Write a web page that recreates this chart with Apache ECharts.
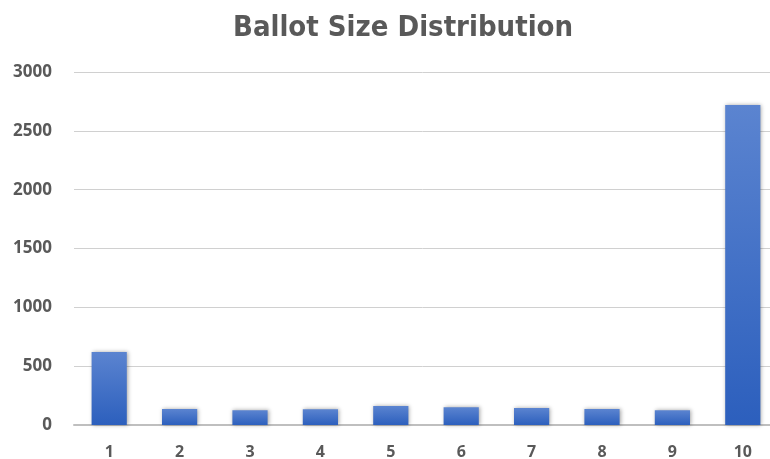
<!DOCTYPE html>
<html>
<head>
<meta charset="utf-8">
<script src="https://cdn.jsdelivr.net/npm/echarts@6/dist/echarts.min.js"></script>
<style>
  html, body { margin: 0; padding: 0; background: #fff; }
  #chart { width: 770px; height: 459px; }
</style>
</head>
<body>
<div id="chart"></div>
<script>
// Number of candidates ranked on each ballot, and how many ballots had that size
const ballotSizes = ['1', '2', '3', '4', '5', '6', '7', '8', '9', '10'];
const ballotCounts = [620, 136, 125, 134, 162, 150, 145, 136, 125, 2720];
const yTicks = [0, 500, 1000, 1500, 2000, 2500, 3000];

const chart = echarts.init(document.getElementById('chart'));
const labelColor = '#595959';
const labelFont = '"Open Sans", "DejaVu Sans", sans-serif';

chart.setOption({
  animation: false,
  backgroundColor: '#ffffff',
  title: {
    text: 'Ballot Size Distribution',
    left: 228,
    top: 9,
    textStyle: {
      fontFamily: '"Liberation Sans Narrow", "DejaVu Sans Condensed", sans-serif',
      fontSize: 29,
      fontWeight: 'bold',
      color: labelColor
    }
  },
  grid: { left: 74, top: 72, width: 704, bottom: 34, outerBoundsMode: 'none', containLabel: false },
  xAxis: {
    type: 'category',
    data: ballotSizes,
    axisLine: { lineStyle: { color: '#bfbfbf', width: 2 } },
    axisTick: { show: false },
    axisLabel: {
      margin: 19,
      fontFamily: labelFont,
      fontWeight: 'bold',
      fontSize: 16,
      color: labelColor
    }
  },
  yAxis: {
    type: 'value',
    min: yTicks[0],
    max: yTicks[yTicks.length - 1],
    interval: yTicks[1] - yTicks[0],
    axisLine: { show: false },
    axisTick: { show: false },
    splitLine: { lineStyle: { color: '#d0d0d0', width: 1 } },
    axisLabel: {
      margin: 22,
      formatter: function (v) { return String(v); },
      fontFamily: labelFont,
      fontWeight: 'bold',
      fontSize: 17,
      color: labelColor
    }
  },
  series: [{
    type: 'bar',
    data: ballotCounts,
    barWidth: '50%',
    itemStyle: {
      color: new echarts.graphic.LinearGradient(0, 0, 0, 1, [
        { offset: 0, color: '#5b84d0' },
        { offset: 1, color: '#2c5fbd' }
      ]),
      shadowColor: 'rgba(0,0,0,0.35)',
      shadowBlur: 4,
      shadowOffsetX: 1,
      shadowOffsetY: 0
    }
  }]
});
</script>
</body>
</html>
